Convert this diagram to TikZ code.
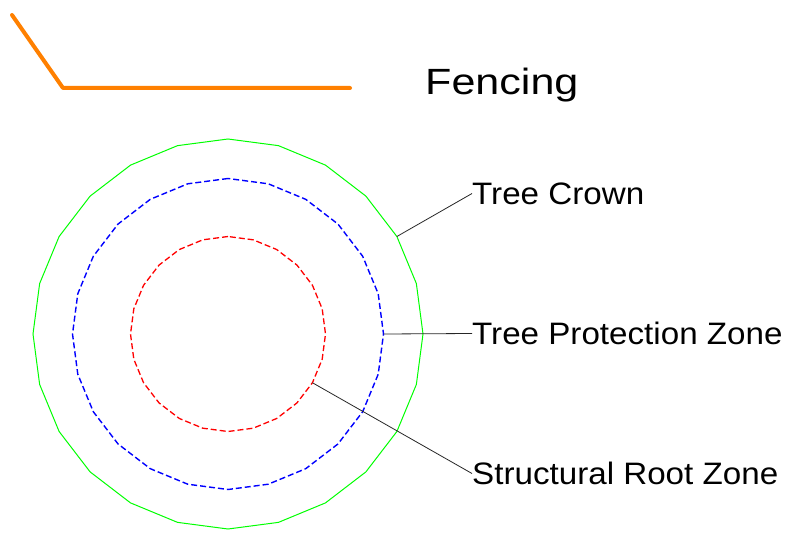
\documentclass[tikz,border=0pt]{standalone}
\usepackage{fontspec}
\setmainfont{Liberation Sans}
\newfontfamily\zonefont[FakeStretch=1.07]{Liberation Sans}
\newfontfamily\fencefont[FakeStretch=1.18]{Liberation Sans}
\usetikzlibrary{shapes.geometric}
\definecolor{fenceorange}{RGB}{255,128,0}
\definecolor{crowngreen}{RGB}{0,255,0}
\definecolor{tpzblue}{RGB}{0,0,255}
\definecolor{srzred}{RGB}{255,0,0}
\tikzset{
  zone/.style={regular polygon, regular polygon sides=24, shape border rotate=7.5, inner sep=0pt, outer sep=0pt},
  zonelabel/.style={anchor=west, inner sep=0pt, font=\zonefont\fontsize{31}{36}\selectfont},
}
\begin{document}
\begin{tikzpicture}[x=1pt,y=-1pt]
\useasboundingbox (0,0) rectangle (791,532);
\draw[line width=4pt, fenceorange, line cap=round, line join=round] (12,15) -- (63,88) -- (350,88);
\node[anchor=base west, inner sep=0pt, font=\fencefont\fontsize{36.5}{40}\selectfont] (fencing) at (425,95) {Fencing};
\node[zone, draw=crowngreen, line width=1pt, minimum size=390pt] (crown) at (228,334) {};
\node[zone, draw=tpzblue, line width=1.4pt, dash pattern=on 6pt off 3pt, minimum size=311pt] (tpz) at (228,334) {};
\node[zone, draw=srzred, line width=1.3pt, dash pattern=on 6pt off 3pt, minimum size=195pt] (srz) at (228,334) {};
\node[zonelabel] (crownlabel) at (472,193.5) {Tree Crown};
\node[zonelabel] (tpzlabel) at (472,333.5) {Tree Protection Zone};
\node[zonelabel] (srzlabel) at (472,473.5) {Structural Root Zone};
\path[draw,line width=0.8pt,black!85] (crown.30) -- (crownlabel.west);
\path[draw,line width=0.8pt,black!85] (tpz.0) -- (tpzlabel.west);
\path[draw,line width=0.8pt,black!85] (srz.-30) -- (srzlabel.west);
\end{tikzpicture}
\end{document}
